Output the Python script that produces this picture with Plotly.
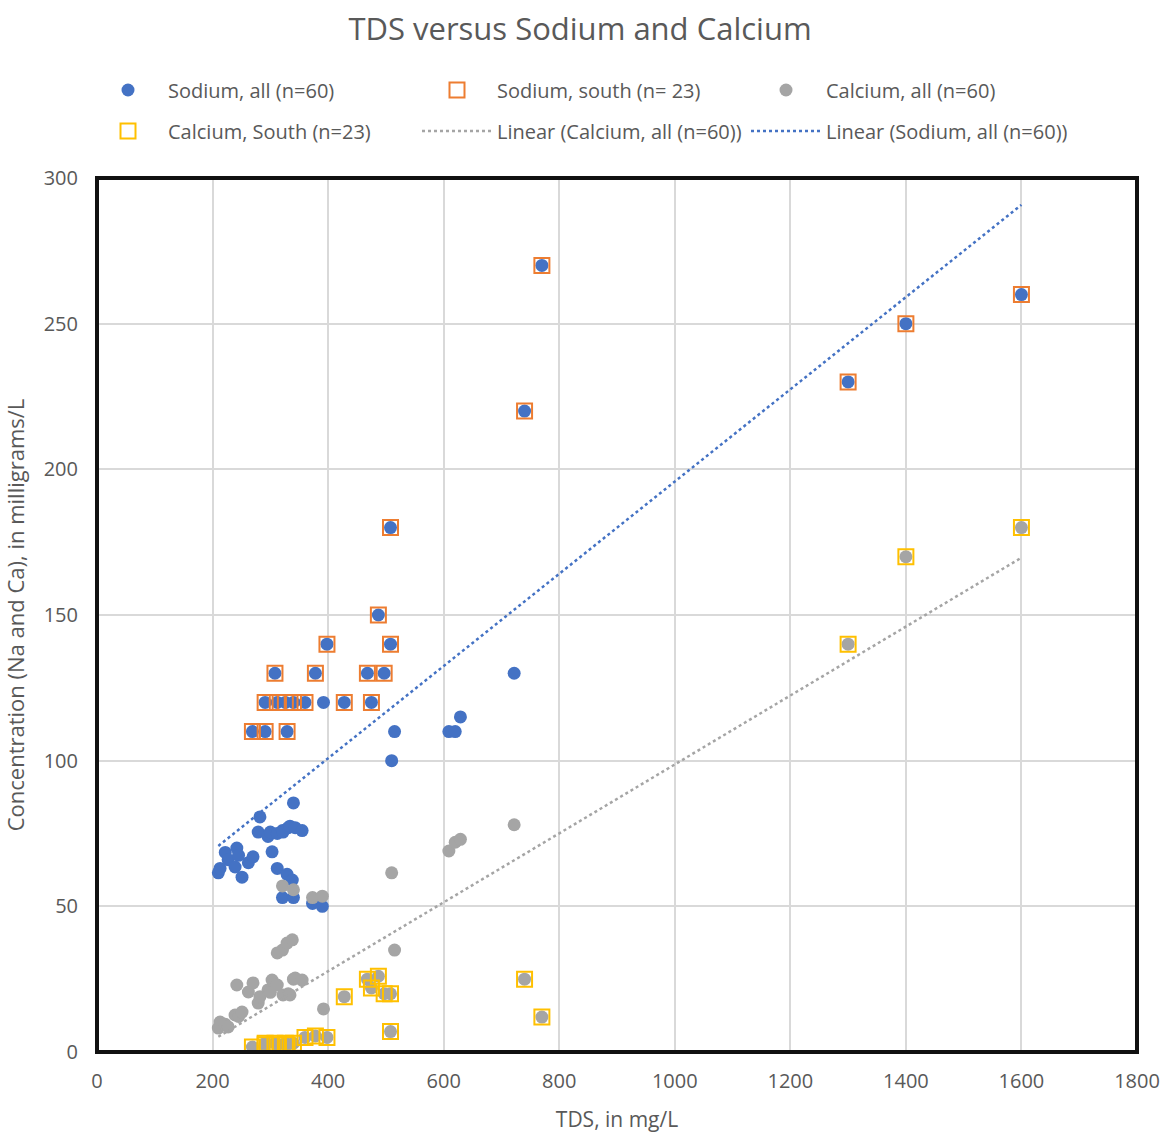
import plotly.graph_objects as go

# ---- Wells in the south area (n=23) ----
tds_south = [269, 291, 291, 308, 312, 326, 329, 340, 360, 378, 398, 428,
             468, 475, 487, 497, 508, 508, 740, 770, 1300, 1400, 1600]
sodium_south = [110, 120, 110, 130, 120, 120, 110, 120, 120, 130, 140, 120,
                130, 120, 150, 130, 180, 140, 220, 270, 230, 250, 260]
calcium_south = [1.7, 2.5, 3.0, 3.0, 2.5, 3.0, 2.5, 3.0, 5.0, 5.5, 5.0, 19,
                 25, 22, 26, 20, 20, 7, 25, 12, 140, 170, 180]

# ---- Remaining wells (n=37) ----
tds_other = [210, 213, 222, 227, 239, 242, 245, 251, 262, 270, 279, 282,
             296, 300, 303, 312, 312, 321, 321, 322, 329, 331, 334, 338,
             340, 340, 343, 355, 373, 390, 392, 510, 515, 609, 620, 629, 722]
sodium_other = [61.5, 63, 68.5, 66, 63.5, 70, 67.5, 60, 65, 67, 75.5, 80.7,
                74, 75.5, 68.7, 75, 63, 53, 76, 75.5, 61, 77, 77.5, 59,
                53, 85.5, 77, 76, 51, 50, 120, 100, 110, 110, 110, 115, 130]
calcium_other = [8.2, 10.3, 9.5, 8.6, 12.7, 23, 12.2, 13.7, 20.6, 23.7, 16.8, 19,
                 21.3, 20.5, 24.7, 23, 34, 57, 35, 19.6, 37.4, 20, 19.6, 38.5,
                 55.7, 25, 25.4, 24.7, 53, 53.5, 14.8, 61.5, 35, 69, 72, 73, 78]

# All wells (n=60)
tds_all = tds_other + tds_south
sodium_all = sodium_other + sodium_south
calcium_all = calcium_other + calcium_south

# Linear trendline coefficients (slope, intercept)
sodium_fit = (0.1583, 37.5)
calcium_fit = (0.1183, -19.6)

x_ticks = [0, 200, 400, 600, 800, 1000, 1200, 1400, 1600, 1800]
y_ticks = [0, 50, 100, 150, 200, 250, 300]

BLUE = "#4472C4"
ORANGE = "#ED7D31"
GRAY = "#A5A5A5"
GOLD = "#FFC000"
TEXT = "#595959"
FONT = "Open Sans"

fig = go.Figure()

fig.add_trace(go.Scatter(
    x=tds_all, y=sodium_all, mode="markers", name="Sodium, all (n=60)",
    marker=dict(color=BLUE, size=13, line=dict(width=0)), legend="legend"))
fig.add_trace(go.Scatter(
    x=tds_south, y=sodium_south, mode="markers", name="Sodium, south (n= 23)",
    marker=dict(symbol="square-open", color=ORANGE, size=15, line=dict(width=2)),
    legend="legend"))
fig.add_trace(go.Scatter(
    x=tds_all, y=calcium_all, mode="markers", name="Calcium, all (n=60)",
    marker=dict(color=GRAY, size=13, line=dict(width=0)), legend="legend"))
fig.add_trace(go.Scatter(
    x=tds_south, y=calcium_south, mode="markers", name="Calcium, South (n=23)",
    marker=dict(symbol="square-open", color=GOLD, size=15, line=dict(width=2)),
    legend="legend2"))

x_lo, x_hi = min(tds_all), max(tds_all)
fig.add_trace(go.Scatter(
    x=[x_lo, x_hi], y=[calcium_fit[0] * x_lo + calcium_fit[1], calcium_fit[0] * x_hi + calcium_fit[1]],
    mode="lines", name="Linear (Calcium, all (n=60))",
    line=dict(color=GRAY, width=2.5, dash="dot"), legend="legend2"))
fig.add_trace(go.Scatter(
    x=[x_lo, x_hi], y=[sodium_fit[0] * x_lo + sodium_fit[1], sodium_fit[0] * x_hi + sodium_fit[1]],
    mode="lines", name="Linear (Sodium, all (n=60))",
    line=dict(color=BLUE, width=2.5, dash="dot"), legend="legend2"))

legend_common = dict(
    orientation="h", xref="container", yref="container",
    xanchor="left", yanchor="middle",
    font=dict(family=FONT, size=20, color=TEXT),
    itemwidth=70, entrywidth=244, entrywidthmode="pixels",
    bgcolor="rgba(0,0,0,0)", itemclick=False, itemdoubleclick=False,
)

fig.update_layout(
    width=1160, height=1133,
    margin=dict(l=97, r=23, t=178, b=81, autoexpand=False),
    paper_bgcolor="white", plot_bgcolor="white",
    font=dict(family=FONT, color=TEXT),
    title=dict(text="TDS versus Sodium and Calcium", x=0.5, xanchor="center",
               y=1 - 29 / 1133, yanchor="middle", yref="container",
               font=dict(family=FONT, size=31, color=TEXT)),
    showlegend=True,
    legend=dict(x=88 / 1160, y=1 - 90 / 1133, **legend_common),
    legend2=dict(x=88 / 1160, y=1 - 131 / 1133, **legend_common),
    xaxis=dict(
        range=[0, 1800], tickvals=x_ticks, ticktext=[str(v) for v in x_ticks],
        showgrid=True, gridcolor="#D9D9D9", gridwidth=1.5,
        zeroline=False, showline=True, linecolor="#8C8C8C", linewidth=1,
        ticks="", ticklabelstandoff=11, automargin=False,
        tickfont=dict(family=FONT, size=20, color=TEXT),
        title=dict(text="TDS, in mg/L", standoff=20,
                   font=dict(family=FONT, size=21, color=TEXT)),
    ),
    yaxis=dict(
        range=[0, 300], tickvals=y_ticks, ticktext=[str(v) for v in y_ticks],
        showgrid=True, gridcolor="#D9D9D9", gridwidth=1.5,
        zeroline=False, showline=True, linecolor="#8C8C8C", linewidth=1,
        ticks="", ticklabelstandoff=14, automargin=False,
        tickfont=dict(family=FONT, size=20, color=TEXT),
        title=dict(text="Concentration (Na and Ca), in milligrams/L", standoff=12,
                   font=dict(family=FONT, size=22, color=TEXT)),
    ),
    shapes=[dict(type="rect", xref="paper", yref="paper", x0=0, y0=0, x1=1, y1=1,
                 line=dict(color="#111111", width=4), layer="above")],
)

fig.write_html("out.html")
